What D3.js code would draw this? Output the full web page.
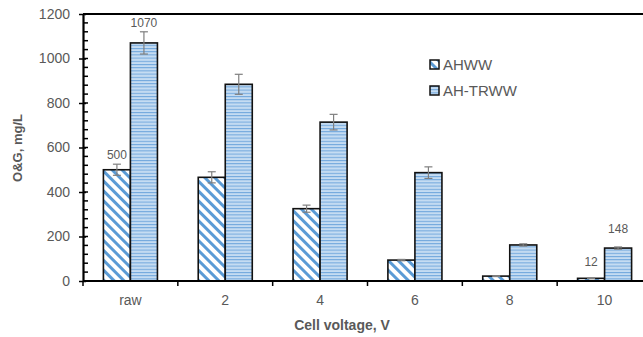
<!DOCTYPE html>
<meta charset="utf-8">
<script src="https://d3js.org/d3.v7.min.js"></script>
<style>
  body { margin: 0; background: #fff; }
  text { font-family: Arial, "Liberation Sans", sans-serif; }
</style>
<div id="chart"></div>
<script>

// categories and series
var voltages = ["raw", "2", "4", "6", "8", "10"];
var seriesNames = ["AHWW", "AH-TRWW"];

// O&G values, mg/L
var ahww = [500, 466, 325, 94, 22, 12];
var ahtrww = [1070, 884, 714, 487, 162, 148];

// error bars (+/-)
var ahwwErr = [25, 25, 16, 3, 2, 1];
var ahtrwwErr = [50, 45, 35, 26, 5, 5];

var yTicks = [0, 200, 400, 600, 800, 1000, 1200];

var width = 643, height = 337;
var margin = {top: 14, left: 83, bottom: 56};

var svg = d3.select("#chart")
  .append("svg")
    .attr("width", width)
    .attr("height", height);

var rows = voltages.map(function(v, i) {
  return {cat: v, vals: [
    {s: "AHWW", v: ahww[i], e: ahwwErr[i]},
    {s: "AH-TRWW", v: ahtrww[i], e: ahtrwwErr[i]}
  ]};
});

// patterns
var defs = svg.append("defs");
var diag = defs.append("pattern")
  .attr("id", "diag")
  .attr("patternUnits", "userSpaceOnUse")
  .attr("width", 7).attr("height", 7)
  .attr("patternTransform", "rotate(45)");
diag.append("rect").attr("width", 7).attr("height", 7).attr("fill", "#fff");
diag.append("rect").attr("width", 7).attr("height", 3).attr("fill", "#5b9bd5");

var horiz = defs.append("pattern")
  .attr("id", "horiz")
  .attr("patternUnits", "userSpaceOnUse")
  .attr("width", 6).attr("height", 3.2);
horiz.append("rect").attr("width", 6).attr("height", 3.2).attr("fill", "#c5dcf2");
horiz.append("rect").attr("width", 6).attr("height", 1).attr("fill", "#6fa6dc");

var fills = {"AHWW": "url(#diag)", "AH-TRWW": "url(#horiz)"};

// scales
var x0 = d3.scaleBand()
  .domain(voltages)
  .range([margin.left, 652]);

var x1 = d3.scaleBand()
  .domain(seriesNames)
  .range([0, x0.bandwidth()])
  .paddingOuter(0.755);

var y = d3.scaleLinear()
  .domain([0, 1200])
  .range([height - margin.bottom, margin.top]);

// top border line
svg.append("line")
  .attr("x1", margin.left).attr("x2", width)
  .attr("y1", y(1200)).attr("y2", y(1200))
  .attr("stroke", "#000").attr("stroke-width", 2);

// bars
var groups = svg.append("g").selectAll("g")
  .data(rows)
  .enter()
  .append("g")
  .attr("transform", function(d) { return "translate(" + x0(d.cat) + ",0)"; });

groups.selectAll("rect")
  .data(function(d) { return d.vals; })
  .enter()
  .append("rect")
    .attr("x", function(d) { return x1(d.s); })
    .attr("y", function(d) { return y(d.v); })
    .attr("width", x1.bandwidth())
    .attr("height", function(d) { return y(0) - y(d.v); })
    .attr("fill", function(d) { return fills[d.s]; })
    .attr("stroke", "#111")
    .attr("stroke-width", 1.6);

// error bars
var eb = groups.selectAll("g.err")
  .data(function(d) { return d.vals; })
  .enter()
  .append("g")
  .attr("class", "err")
  .attr("stroke", "#7f7f7f")
  .attr("stroke-width", 1.2);

eb.append("line")
  .attr("x1", function(d) { return x1(d.s) + x1.bandwidth() / 2; })
  .attr("x2", function(d) { return x1(d.s) + x1.bandwidth() / 2; })
  .attr("y1", function(d) { return y(d.v + d.e); })
  .attr("y2", function(d) { return y(d.v - d.e); });
[1, -1].forEach(function(sign) {
  eb.append("line")
    .attr("x1", function(d) { return x1(d.s) + x1.bandwidth() / 2 - 4; })
    .attr("x2", function(d) { return x1(d.s) + x1.bandwidth() / 2 + 4; })
    .attr("y1", function(d) { return y(d.v + sign * d.e); })
    .attr("y2", function(d) { return y(d.v + sign * d.e); });
});

// data labels for raw and 10
var labelled = [
  {cat: "raw", s: "AHWW", v: ahww[0], e: ahwwErr[0]},
  {cat: "raw", s: "AH-TRWW", v: ahtrww[0], e: ahtrwwErr[0]},
  {cat: "10", s: "AHWW", v: ahww[5], e: 0},
  {cat: "10", s: "AH-TRWW", v: ahtrww[5], e: 44}
];
svg.append("g").selectAll("text")
  .data(labelled)
  .enter()
  .append("text")
    .attr("x", function(d) { return x0(d.cat) + x1(d.s) + x1.bandwidth() / 2; })
    .attr("y", function(d) { return y(d.v + d.e) - (d.cat == "10" && d.s == "AHWW" ? 12 : 5); })
    .attr("text-anchor", "middle")
    .attr("fill", "#595959")
    .style("font-size", "12px")
    .text(function(d) { return d.v; });

// Y axis
var yAxis = svg.append("g")
  .attr("transform", "translate(" + margin.left + ",0)");
yAxis.call(d3.axisLeft(y).tickValues(yTicks).tickFormat(d3.format("d"))
  .tickSizeOuter(0).tickSizeInner(4).tickPadding(9));
yAxis.select(".domain").attr("stroke-width", 2.2);
yAxis.selectAll(".tick line").attr("stroke-width", 1.5).attr("x2", -4).attr("x1", 3);
yAxis.selectAll(".tick text")
  .style("font-size", "14px")
  .style("font-family", "Arial, 'Liberation Sans', sans-serif")
  .attr("fill", "#595959");
// minor ticks
yAxis.append("g")
  .selectAll("line")
  .data(d3.range(0, 1201, 40))
  .enter()
  .append("line")
    .attr("x1", 0).attr("x2", 5)
    .attr("y1", function(d) { return y(d); })
    .attr("y2", function(d) { return y(d); })
    .attr("stroke", "#000").attr("stroke-width", 1.5);

// X axis
var xAxis = svg.append("g")
  .attr("transform", "translate(0," + y(0) + ")");
xAxis.append("line")
  .attr("x1", margin.left).attr("x2", width)
  .attr("stroke", "#000").attr("stroke-width", 2.2);
xAxis.selectAll("line.tk")
  .data(voltages)
  .enter()
  .append("line")
    .attr("class", "tk")
    .attr("x1", function(d) { return x0(d); })
    .attr("x2", function(d) { return x0(d); })
    .attr("y1", 0).attr("y2", 5)
    .attr("stroke", "#000").attr("stroke-width", 1.5);
xAxis.selectAll("text")
  .data(voltages)
  .enter()
  .append("text")
    .attr("x", function(d) { return x0(d) + x0.bandwidth() / 2; })
    .attr("y", 24)
    .attr("text-anchor", "middle")
    .attr("fill", "#595959")
    .style("font-size", "14px")
    .text(function(d) { return d; });

// axis titles
svg.append("text")
  .attr("x", 342)
  .attr("y", 330)
  .attr("text-anchor", "middle")
  .attr("fill", "#595959")
  .style("font-size", "14px")
  .style("font-weight", "bold")
  .text("Cell voltage, V");

svg.append("text")
  .attr("transform", "translate(22," + 148 + ") rotate(-90)")
  .attr("text-anchor", "middle")
  .attr("fill", "#595959")
  .style("font-size", "13px")
  .style("font-weight", "bold")
  .text("O&G, mg/L");

// legend
var legend = svg.append("g")
  .attr("transform", "translate(430,60)");
var li = legend.selectAll("g")
  .data(seriesNames)
  .enter()
  .append("g")
  .attr("transform", function(d, i) { return "translate(0," + i * 26 + ")"; });
li.append("rect")
  .attr("width", 9).attr("height", 9)
  .attr("fill", function(d) { return fills[d]; })
  .attr("stroke", "#111").attr("stroke-width", 1.5);
li.append("text")
  .attr("x", 13).attr("y", 10)
  .attr("fill", "#595959")
  .style("font-size", "15px")
  .text(function(d) { return d; });

</script>
